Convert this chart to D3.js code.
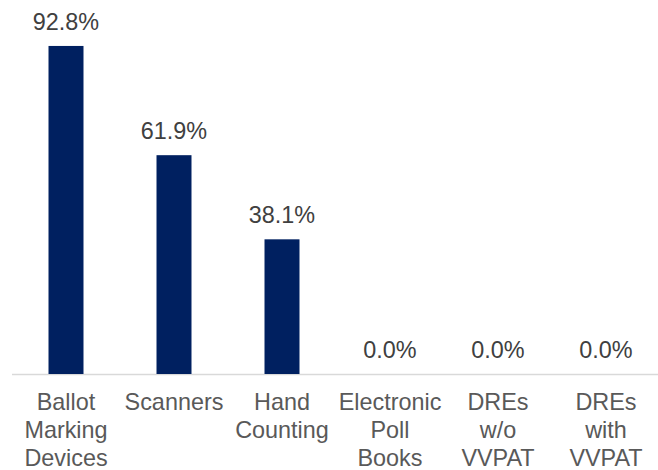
<!DOCTYPE html>
<html><head><meta charset="utf-8">
<script src="https://cdn.jsdelivr.net/npm/d3@7"></script>
<style>body{margin:0;background:#fff}svg{display:block}</style>
</head><body>
<svg id="c" width="658" height="470"></svg>
<script>
const categories = [["Ballot","Marking","Devices"],["Scanners"],["Hand","Counting"],["Electronic","Poll","Books"],["DREs","w/o","VVPAT"],["DREs","with","VVPAT"]];
const values = [92.8, 61.9, 38.1, 0.0, 0.0, 0.0];

const svg = d3.select("#c");
const ids = categories.map((c,i)=>i);
const x = d3.scaleBand().domain(ids).range([12,660]).paddingInner(0.676).paddingOuter(0.338);
const y = d3.scaleLinear().domain([0,100]).range([374,20.5]);

svg.append("line").attr("x1",12).attr("x2",658).attr("y1",y(0)+0.5).attr("y2",y(0)+0.5)
  .attr("stroke","#d9d9d9").attr("stroke-width",1.5);

svg.selectAll("rect.bar").data(values).join("rect").attr("class","bar")
  .attr("x",(d,i)=>x(i)).attr("width",x.bandwidth())
  .attr("y",d=>y(d)).attr("height",d=>y(0)-y(d)).attr("fill","#002060");

svg.selectAll("text.val").data(values).join("text").attr("class","val")
  .attr("x",(d,i)=>x(i)+x.bandwidth()/2).attr("y",d=>y(d)-16)
  .attr("text-anchor","middle").attr("font-family","Liberation Sans, Arial, sans-serif")
  .attr("font-size",23.4).attr("fill","#404040").text(d=>d.toFixed(1)+"%");

const cat = svg.selectAll("text.cat").data(categories).join("text").attr("class","cat")
  .attr("text-anchor","middle").attr("font-family","Liberation Sans, Arial, sans-serif")
  .attr("font-size",23.4).attr("fill","#595959");
cat.each(function(lines,i){
  d3.select(this).selectAll("tspan").data(lines).join("tspan")
    .attr("x",x(i)+x.bandwidth()/2).attr("y",(l,j)=>410+j*28).text(l=>l);
});
</script>
</body></html>
